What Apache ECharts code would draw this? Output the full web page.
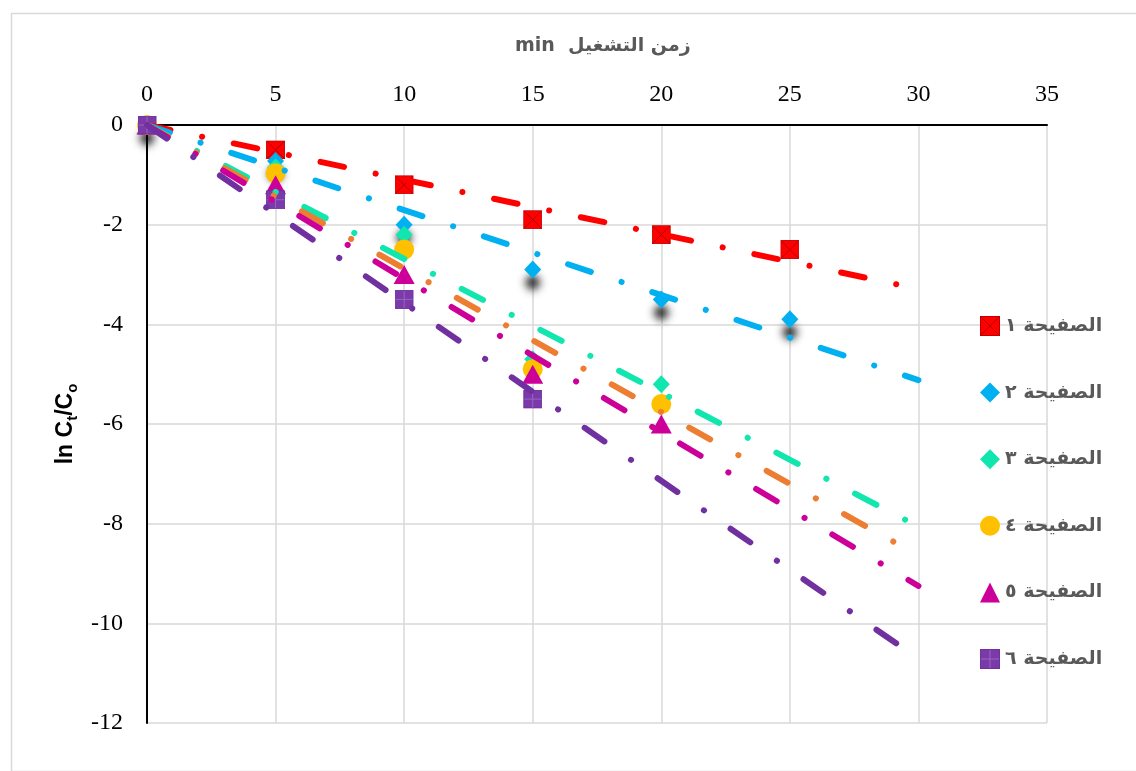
<!DOCTYPE html>
<html>
<head>
<meta charset="utf-8">
<script src="https://cdn.jsdelivr.net/npm/echarts@6/dist/echarts.min.js"></script>
<style>html,body{margin:0;padding:0;background:#fff;}#c{width:1136px;height:771px;}</style>
</head>
<body>
<div id="c"></div>
<script>
// ---- data ----
var seriesNames = ['الصفيحة ١','الصفيحة ٢','الصفيحة ٣','الصفيحة ٤','الصفيحة ٥','الصفيحة ٦'];
var timeS1 = [0, 5, 10, 15, 20, 25];
var valS1  = [0, -0.5, -1.2, -1.9, -2.2, -2.5];
var timeS2 = [0, 5, 10, 15, 20, 25];
var valS2  = [0, -0.72, -2.0, -2.9, -3.5, -3.9];
var timeS3 = [0, 5, 10, 15, 20];
var valS3  = [0, -0.85, -2.2, -4.7, -5.2];
var timeS4 = [0, 5, 10, 15, 20];
var valS4  = [0, -0.97, -2.5, -4.9, -5.6];
var timeS5 = [0, 5, 10, 15, 20];
var valS5  = [0, -1.2, -3.0, -5.0, -6.0];
var timeS6 = [0, 5, 10, 15];
var valS6  = [0, -1.5, -3.5, -5.5];
// trendlines (through the origin, read end point at x = 30)
var trendEndX = [30, 30, 30, 30, 30, 30];
var trendEndY = [-3.29, -5.12, -8.06, -8.64, -9.25, -10.71];
var xTicks = [0, 5, 10, 15, 20, 25, 30, 35];
var yTicks = [0, -2, -4, -6, -8, -10, -12];

var times = [timeS1, timeS2, timeS3, timeS4, timeS5, timeS6];
var vals  = [valS1, valS2, valS3, valS4, valS5, valS6];

function svgUrl(s){ return 'image://data:image/svg+xml;charset=utf-8,' + encodeURIComponent(s); }
var redSq = svgUrl("<svg xmlns='http://www.w3.org/2000/svg' width='40' height='40'><rect x='1' y='1' width='38' height='38' fill='#ff0000' stroke='#c00000' stroke-width='2'/><path d='M2 2L38 38M38 2L2 38' stroke='#b00000' stroke-width='2'/></svg>");
var purpleSq = svgUrl("<svg xmlns='http://www.w3.org/2000/svg' width='40' height='40'><rect x='1' y='1' width='38' height='38' fill='#7a3aa8' stroke='#7030a0' stroke-width='2'/><path d='M20 2L20 38M2 20L38 20' stroke='#9a66c4' stroke-width='2'/></svg>");

var markerColors = ['#ff0000', '#00b0f0', '#10e6ad', '#ffc000', '#cc0099', '#7030a0'];
var trendColors  = ['#ff0000', '#00b0f0', '#10e6ad', '#ed7d31', '#cc0099', '#7030a0'];
var symbols = [redSq, 'diamond', 'diamond', 'circle', 'triangle', purpleSq];
var sizes = [19, [17, 18], [17, 18], 20, [21, 19], 19];

var series = [];
for (var i = 0; i < 6; i++) {
  var d = [];
  for (var j = 0; j < times[i].length; j++) d.push([times[i][j], vals[i][j]]);
  var item = {
    name: seriesNames[i], type: 'scatter', data: d, symbol: symbols[i], symbolSize: sizes[i],
    itemStyle: { color: markerColors[i], opacity: 1 }, z: 2, silent: true
  };
  if (i === 1) {
    item.itemStyle.shadowColor = 'rgba(0,0,0,0.9)';
    item.itemStyle.shadowBlur = 9;
    item.itemStyle.shadowOffsetY = 13;
  }
  series.push(item);
}
for (var k = 0; k < 6; k++) {
  series.push({
    name: 'trend' + k, type: 'line', data: [[0, 0], [trendEndX[k], trendEndY[k]]],
    showSymbol: false, symbol: 'none', silent: true, z: 3,
    lineStyle: { color: trendColors[k], width: 6, type: [24, 32.3, 0.1, 32.3], cap: 'round' }
  });
}

var chart = echarts.init(document.getElementById('c'));
chart.setOption({
  animation: false,
  backgroundColor: '#fff',
  title: {
    text: 'min  زمن التشغيل', left: 510, top: 32,
    textStyle: { fontFamily: 'DejaVu Sans', fontWeight: 'bold', fontSize: 19, color: '#595959' }
  },
  graphic: [{
    type: 'rect', left: 9, top: 11, shape: { x: 0, y: 0, width: 1140, height: 758 },
    style: { fill: 'none', stroke: '#d9d9d9', lineWidth: 1.5 }, silent: true
  }],
  grid: { left: 147, right: 89, top: 125, bottom: 48 },
  legend: {
    orient: 'vertical', left: 975, top: 311, itemWidth: 20, itemHeight: 20, itemGap: 46.6,
    data: seriesNames.map(function (n) { return { name: n, itemStyle: { shadowBlur: 0, shadowOffsetY: 0, shadowColor: 'rgba(0,0,0,0)' } }; }),
    textStyle: { fontFamily: 'DejaVu Sans', fontWeight: 'bold', fontSize: 19, color: '#595959', lineHeight: 20 },
    selectedMode: false
  },
  xAxis: {
    type: 'value', position: 'top', min: 0, max: 35, interval: 5,
    axisLine: { onZero: false, lineStyle: { color: '#000', width: 2 } },
    axisTick: { show: false },
    axisLabel: { margin: 18, fontFamily: 'Liberation Serif', fontSize: 24, color: '#000',
      formatter: function (v) { return xTicks.indexOf(v) >= 0 ? String(v) : ''; } },
    splitLine: { show: true, lineStyle: { color: '#d9d9d9', width: 1.5 } }
  },
  yAxis: {
    type: 'value', min: -12, max: 0, interval: 2,
    axisLine: { onZero: false, lineStyle: { color: '#000', width: 2 } },
    axisTick: { show: false },
    axisLabel: { margin: 24, fontFamily: 'Liberation Serif', fontSize: 24, color: '#000',
      formatter: function (v) { return yTicks.indexOf(v) >= 0 ? String(v) : ''; } },
    splitLine: { show: true, lineStyle: { color: '#d9d9d9', width: 1.5 } },
    name: '{a|ln C}{b|t}{a|/C}{b|o}', nameLocation: 'middle', nameGap: 57, nameRotate: 90,
    nameTextStyle: {
      rich: {
        a: { fontFamily: 'Liberation Sans', fontWeight: 'bold', fontSize: 23, color: '#000', lineHeight: 28, verticalAlign: 'middle' },
        b: { fontFamily: 'Liberation Sans', fontWeight: 'bold', fontSize: 15, color: '#000', lineHeight: 16, verticalAlign: 'bottom' }
      }
    }
  },
  series: series
});
</script>
</body>
</html>
